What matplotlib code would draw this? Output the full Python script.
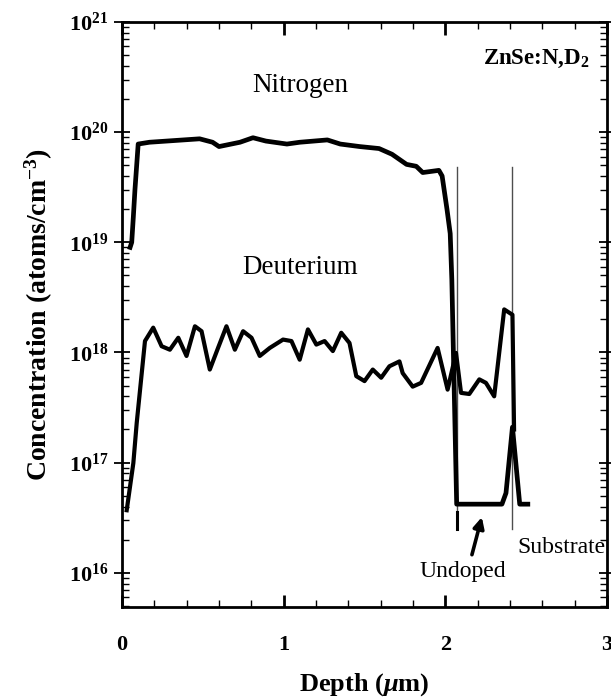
#! /usr/bin/env python3
#
# SIMS depth profile, ZnSe:N,D2
#
import matplotlib as mpl
mpl.use('Agg')
import matplotlib.pyplot as plt
from matplotlib.ticker import FixedLocator, FixedFormatter, LogLocator, MultipleLocator, NullFormatter
import numpy as np

plt.rcParams['font.family'] = 'Liberation Serif'
plt.rcParams['mathtext.fontset'] = 'custom'
plt.rcParams['mathtext.rm'] = 'Liberation Serif:bold'
plt.rcParams['mathtext.it'] = 'Liberation Serif:italic:bold'
plt.rcParams['mathtext.bf'] = 'Liberation Serif:bold'

# nitrogen profile (depth in um, atoms/cm^3)
n_depth = [0.05, 0.06, 0.07, 0.08, 0.10, 0.17, 0.48, 0.56, 0.60, 0.73, 0.81, 0.89,
           1.02, 1.10, 1.27, 1.35, 1.47, 1.59, 1.67, 1.76, 1.82, 1.86, 1.96, 1.98,
           2.01, 2.03, 2.04, 2.07, 2.35, 2.375, 2.415, 2.46, 2.51]
n_conc = [9.0e18, 1.0e19, 1.7e19, 3.0e19, 7.8e19, 8.1e19, 8.7e19, 8.1e19, 7.4e19,
          8.1e19, 8.9e19, 8.3e19, 7.8e19, 8.1e19, 8.5e19, 7.8e19, 7.4e19, 7.1e19,
          6.3e19, 5.1e19, 4.9e19, 4.3e19, 4.5e19, 4.0e19, 2.0e19, 1.2e19, 4.6e18,
          4.2e16, 4.2e16, 5.3e16, 2.1e17, 4.2e16, 4.2e16]

# deuterium profile
d_depth = [0.029, 0.070, 0.091, 0.142, 0.193, 0.245, 0.296, 0.348, 0.399, 0.451,
           0.492, 0.543, 0.594, 0.646, 0.698, 0.749, 0.801, 0.852, 0.914, 0.996,
           1.048, 1.099, 1.150, 1.202, 1.253, 1.304, 1.356, 1.407, 1.449, 1.500,
           1.551, 1.603, 1.654, 1.716, 1.736, 1.798, 1.850, 1.952, 2.014, 2.066,
           2.097, 2.148, 2.210, 2.251, 2.302, 2.364, 2.415, 2.425]
d_conc = [3.7e16, 9.9e16, 2.3e17, 1.27e18, 1.68e18, 1.14e18, 1.06e18, 1.36e18, 9.3e17,
          1.73e18, 1.56e18, 7.0e17, 1.10e18, 1.73e18, 1.06e18, 1.56e18, 1.36e18,
          9.3e17, 1.10e18, 1.31e18, 1.27e18, 8.6e17, 1.62e18, 1.18e18, 1.27e18,
          1.03e18, 1.51e18, 1.22e18, 6.1e17, 5.5e17, 7.0e17, 5.9e17, 7.5e17, 8.3e17,
          6.5e17, 4.9e17, 5.3e17, 1.10e18, 4.6e17, 9.9e17, 4.3e17, 4.2e17, 5.7e17,
          5.3e17, 4.0e17, 2.46e18, 2.2e18, 2.0e17]

# layer boundaries (um)
boundaries = [2.07, 2.41]
bound_top = 4.8e19
bound_bot = 2.5e16

y_ticks = [1e16, 1e17, 1e18, 1e19, 1e20, 1e21]
y_labels = [r'$10^{16}$', r'$10^{17}$', r'$10^{18}$', r'$10^{19}$', r'$10^{20}$', r'$10^{21}$']
x_ticks = [0, 1, 2, 3]

fig = plt.figure(figsize=(6.11, 6.98), dpi=100)
ax = fig.add_axes([0.1997, 0.1304, 0.7938, 0.8381])

for b in boundaries:
    ax.plot([b, b], [bound_bot, bound_top], color='0.3', lw=1.0)
# short heavy marks at the foot of the boundary lines
ax.plot([2.07, 2.07], [bound_bot, 10**16.55], color='black', lw=2.2)

ax.plot(n_depth, n_conc, color='black', lw=3.4, solid_joinstyle='round')
ax.plot(d_depth, d_conc, color='black', lw=3.0, solid_joinstyle='round')

ax.set_yscale('log')
ax.set_xlim(0, 3)
ax.set_ylim(10**15.69, 1e21)

ax.yaxis.set_major_locator(FixedLocator(y_ticks))
ax.yaxis.set_major_formatter(FixedFormatter(y_labels))
ax.yaxis.set_minor_locator(LogLocator(base=10, subs=np.arange(2, 10), numticks=20))
ax.yaxis.set_minor_formatter(NullFormatter())
ax.xaxis.set_major_locator(FixedLocator(x_ticks))
ax.xaxis.set_minor_locator(MultipleLocator(0.2))

ax.tick_params(which='both', top=True, right=True)
ax.tick_params(axis='y', which='major', direction='inout', length=12, width=1.3, labelsize=16, pad=4)
ax.tick_params(axis='y', which='minor', direction='in', length=5, width=1.0)
ax.tick_params(axis='x', which='major', direction='in', length=9, width=2.0, labelsize=16, pad=20)
ax.tick_params(axis='x', which='minor', direction='in', length=5, width=1.0)
for lab in ax.get_xticklabels():
    lab.set_fontweight('bold')
for s in ax.spines.values():
    s.set_linewidth(2.0)

ax.set_xlabel(r'Depth ($\mu$m)', fontsize=19, fontweight='bold', labelpad=12)
ax.set_ylabel(r'Concentration (atoms/cm$^{-3}$)', fontsize=20, fontweight='bold', labelpad=10)

ax.text(1.1, 10**20.42, 'Nitrogen', fontsize=19.5, ha='center', va='center')
ax.text(1.1, 10**18.77, 'Deuterium', fontsize=19.5, ha='center', va='center')
ax.text(2.89, 10**20.66, r'ZnSe:N,D$_2$', fontsize=16.5, fontweight='bold', ha='right', va='center')
ax.text(2.105, 10**16.01, 'Undoped', fontsize=17, ha='center', va='center')
ax.text(2.716, 10**16.227, 'Substrate', fontsize=17, ha='center', va='center', clip_on=False)
ax.annotate('', xy=(2.23, 10**16.53), xytext=(2.16, 10**16.14),
            arrowprops=dict(arrowstyle='-|>', color='black', lw=2.6, mutation_scale=16))

fig.savefig('out.png', dpi=100)
